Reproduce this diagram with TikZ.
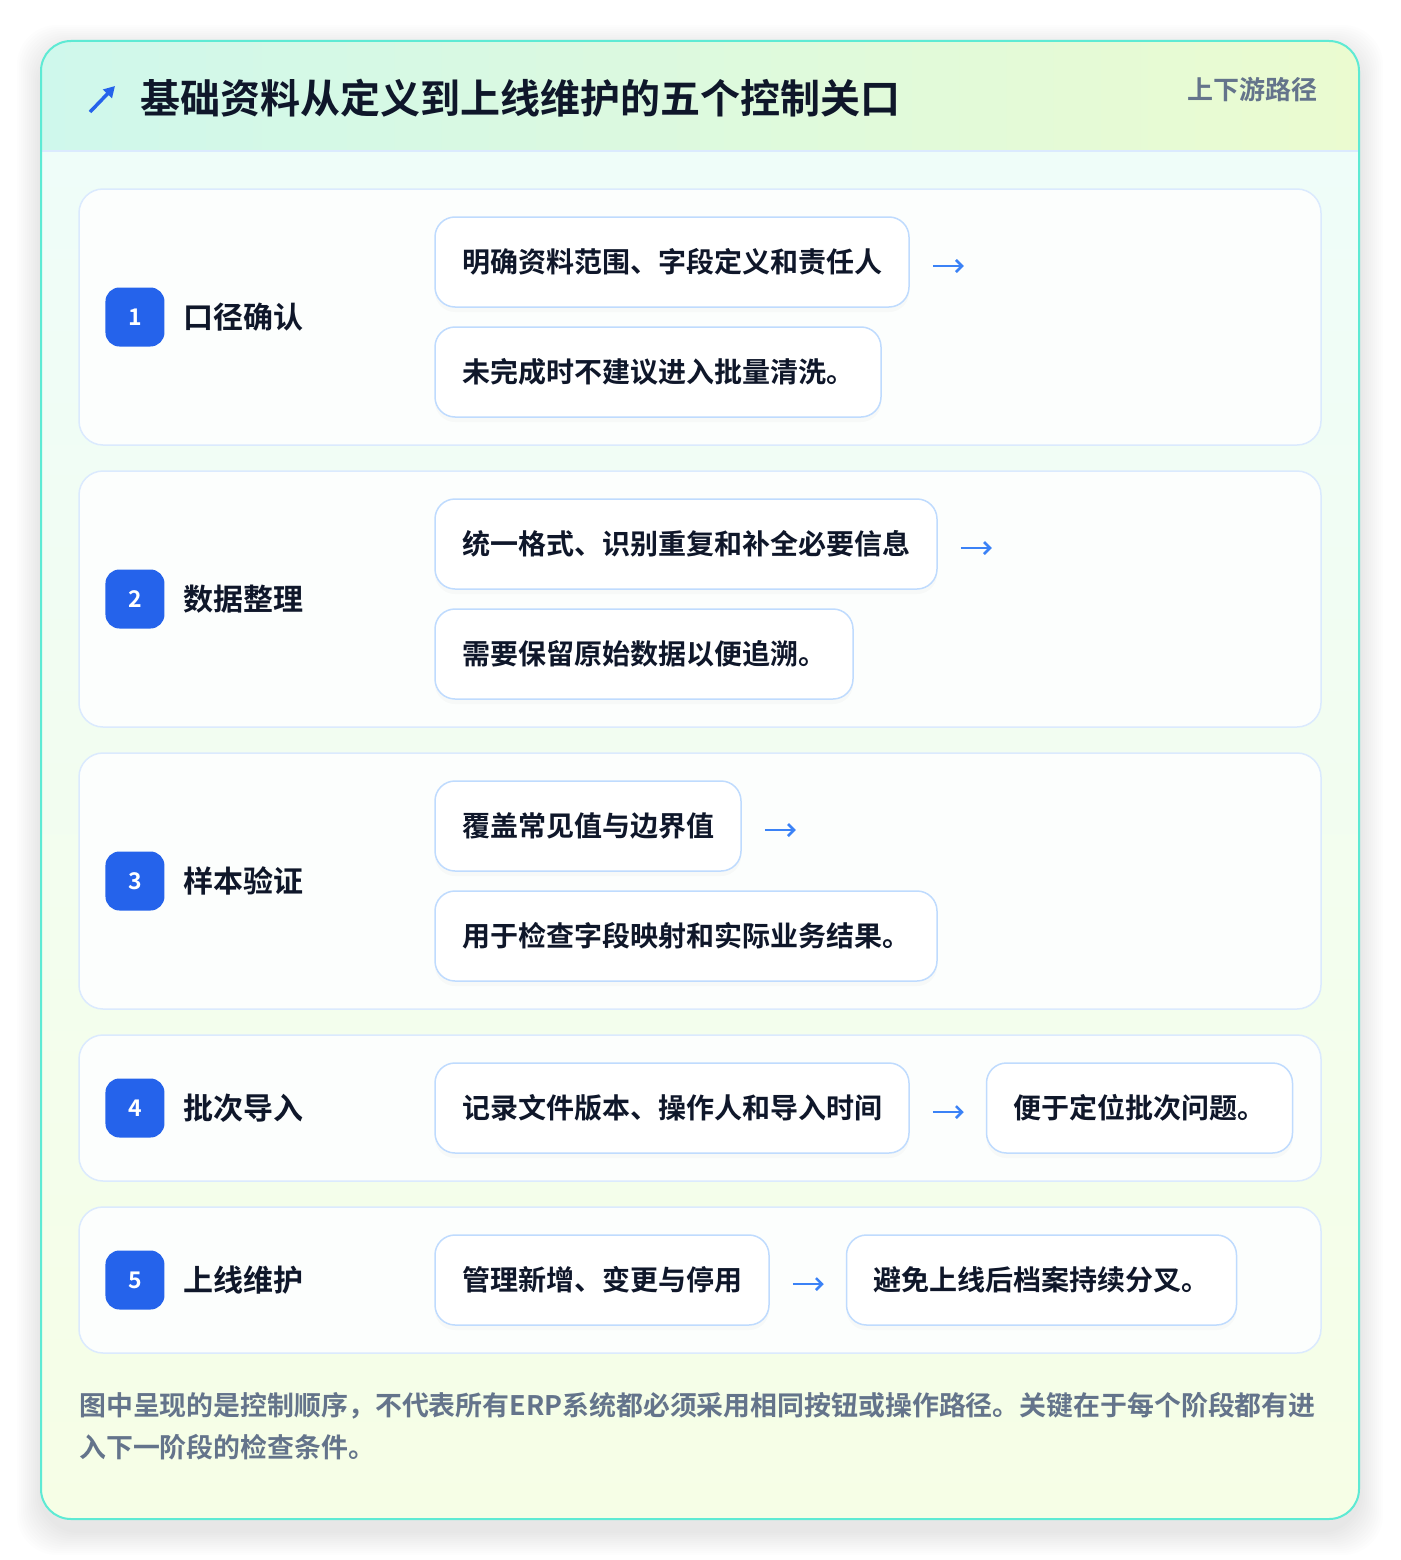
\documentclass[tikz,border=0pt]{standalone}
\usepackage{fontspec}
\setmainfont{Noto Sans CJK SC}[BoldFont={Noto Sans CJK SC Bold}]
\usepackage{xcolor}
\usetikzlibrary{positioning, calc, arrows.meta, shadows}
\definecolor{tealedge}{HTML}{5EEAD4}
\definecolor{badgeblue}{HTML}{2563EB}
\definecolor{arrowblue}{HTML}{3B82F6}
\definecolor{inkdark}{HTML}{0F172A}
\definecolor{slategrey}{HTML}{64748B}
\definecolor{cardedge}{HTML}{DBEAFE}
\definecolor{itemedge}{HTML}{BFDBFE}
\definecolor{cardfill}{HTML}{FCFEFD}
\definecolor{headleft}{HTML}{CFF8EC}
\definecolor{headright}{HTML}{EBFBD0}
\definecolor{bodytop}{HTML}{EFFDF9}
\definecolor{bodybottom}{HTML}{F6FEE6}

\begin{document}
\begin{tikzpicture}[x=1pt, y=1pt,
    stagecard/.style={draw=cardedge, line width=1.5pt, fill=cardfill, rounded corners=24pt, minimum width=1242pt, inner sep=0pt},
    badge/.style={fill=badgeblue, rounded corners=14pt, minimum size=59pt, inner sep=0pt, text=white, font=\fontsize{23}{23}\selectfont\bfseries},
    stagelabel/.style={text=inkdark, font=\fontsize{30}{30}\selectfont\bfseries, inner sep=0pt, text height=25.8pt, text depth=3pt},
    itembox/.style={draw=itemedge, line width=1.5pt, fill=white, rounded corners=20pt, minimum height=90pt, inner xsep=27pt, inner ysep=0pt, text=inkdark, font=\fontsize{28}{28}\selectfont\bfseries, text height=24.1pt, text depth=2.8pt, anchor=west, drop shadow={opacity=.04, shadow xshift=0pt, shadow yshift=-5pt}},
    flow/.style={arrowblue, line width=2.5pt, -{Straight Barb[length=6pt, width=12pt]}},
    footnote/.style={text=slategrey, font=\fontsize{26.9}{26.9}\selectfont\bfseries, inner sep=0pt, anchor=base west}
]
    \useasboundingbox (0,0) rectangle (1400,-1560);
    \fill[white] (0,0) rectangle (1400,-1560);

    % Soft shadow under the panel
    \foreach \s in {2,4,...,24}
        \fill[black, opacity=.009, rounded corners=40pt] (41-\s,-49+\s) rectangle (1359+\s,-1531-\s);

    % Panel background and header band
    \begin{scope}
        \clip[rounded corners=30pt] (41,-41) rectangle (1359,-1519);
        \shade[top color=bodytop, bottom color=bodybottom] (41,-151) rectangle (1359,-1519);
        \shade[left color=headleft, right color=headright] (41,-41) rectangle (1359,-151);
    \end{scope}
    \draw[cardedge, line width=1.5pt] (41,-151) -- (1359,-151);
    \draw[tealedge, line width=2pt, rounded corners=30pt] (41,-41) rectangle (1359,-1519);

    % Header
    \draw[badgeblue, line width=3.5pt, -{Triangle[length=11pt, width=12pt]}] (90,-112) -- (115,-86);
    \node[text=inkdark, font=\fontsize{40}{40}\selectfont\bfseries, inner sep=0pt, text height=34.4pt, text depth=4pt, anchor=west] (title) at (140,-98) {基础资料从定义到上线维护的五个控制关口};
    \node[text=slategrey, font=\fontsize{26}{26}\selectfont\bfseries, inner sep=0pt, text height=22.4pt, text depth=2.6pt, anchor=east] (route) at (1318,-90) {上下游路径};

    % Stage 1
    \node[stagecard, minimum height=256pt] (card1) at (700,-317) {};
    \node[badge, right=27pt of card1.west] (badge1) {1};
    \node[stagelabel, right=19pt of badge1] (label1) {口径确认};
    \node[itembox] (item1a) at ($(card1.west)+(356,55)$) {明确资料范围、字段定义和责任人};
    \node[itembox] (item1b) at ($(card1.west)+(356,-55)$) {未完成时不建议进入批量清洗。};
    \draw[flow] ([xshift=23pt, yshift=-4pt]item1a.east) -- ++(31,0);

    % Stage 2
    \node[stagecard, minimum height=256pt] (card2) at (700,-599) {};
    \node[badge, right=27pt of card2.west] (badge2) {2};
    \node[stagelabel, right=19pt of badge2] (label2) {数据整理};
    \node[itembox] (item2a) at ($(card2.west)+(356,55)$) {统一格式、识别重复和补全必要信息};
    \node[itembox] (item2b) at ($(card2.west)+(356,-55)$) {需要保留原始数据以便追溯。};
    \draw[flow] ([xshift=23pt, yshift=-4pt]item2a.east) -- ++(31,0);

    % Stage 3
    \node[stagecard, minimum height=256pt] (card3) at (700,-881) {};
    \node[badge, right=27pt of card3.west] (badge3) {3};
    \node[stagelabel, right=19pt of badge3] (label3) {样本验证};
    \node[itembox] (item3a) at ($(card3.west)+(356,55)$) {覆盖常见值与边界值};
    \node[itembox] (item3b) at ($(card3.west)+(356,-55)$) {用于检查字段映射和实际业务结果。};
    \draw[flow] ([xshift=23pt, yshift=-4pt]item3a.east) -- ++(31,0);

    % Stage 4
    \node[stagecard, minimum height=146pt] (card4) at (700,-1108) {};
    \node[badge, right=27pt of card4.west] (badge4) {4};
    \node[stagelabel, right=19pt of badge4] (label4) {批次导入};
    \node[itembox] (item4a) at ($(card4.west)+(356,0)$) {记录文件版本、操作人和导入时间};
    \node[itembox, right=76pt of item4a] (item4b) {便于定位批次问题。};
    \draw[flow, shorten <=23pt, shorten >=22pt] ([yshift=-4pt]item4a.east) -- ([yshift=-4pt]item4b.west);

    % Stage 5
    \node[stagecard, minimum height=146pt] (card5) at (700,-1280) {};
    \node[badge, right=27pt of card5.west] (badge5) {5};
    \node[stagelabel, right=19pt of badge5] (label5) {上线维护};
    \node[itembox] (item5a) at ($(card5.west)+(356,0)$) {管理新增、变更与停用};
    \node[itembox, right=76pt of item5a] (item5b) {避免上线后档案持续分叉。};
    \draw[flow, shorten <=23pt, shorten >=22pt] ([yshift=-4pt]item5a.east) -- ([yshift=-4pt]item5b.west);

    % Footnote
    \node[footnote] (note1) at (79,-1415) {图中呈现的是控制顺序，不代表所有ERP系统都必须采用相同按钮或操作路径。关键在于每个阶段都有进};
    \node[footnote] (note2) at (79,-1457) {入下一阶段的检查条件。};
\end{tikzpicture}
\end{document}
